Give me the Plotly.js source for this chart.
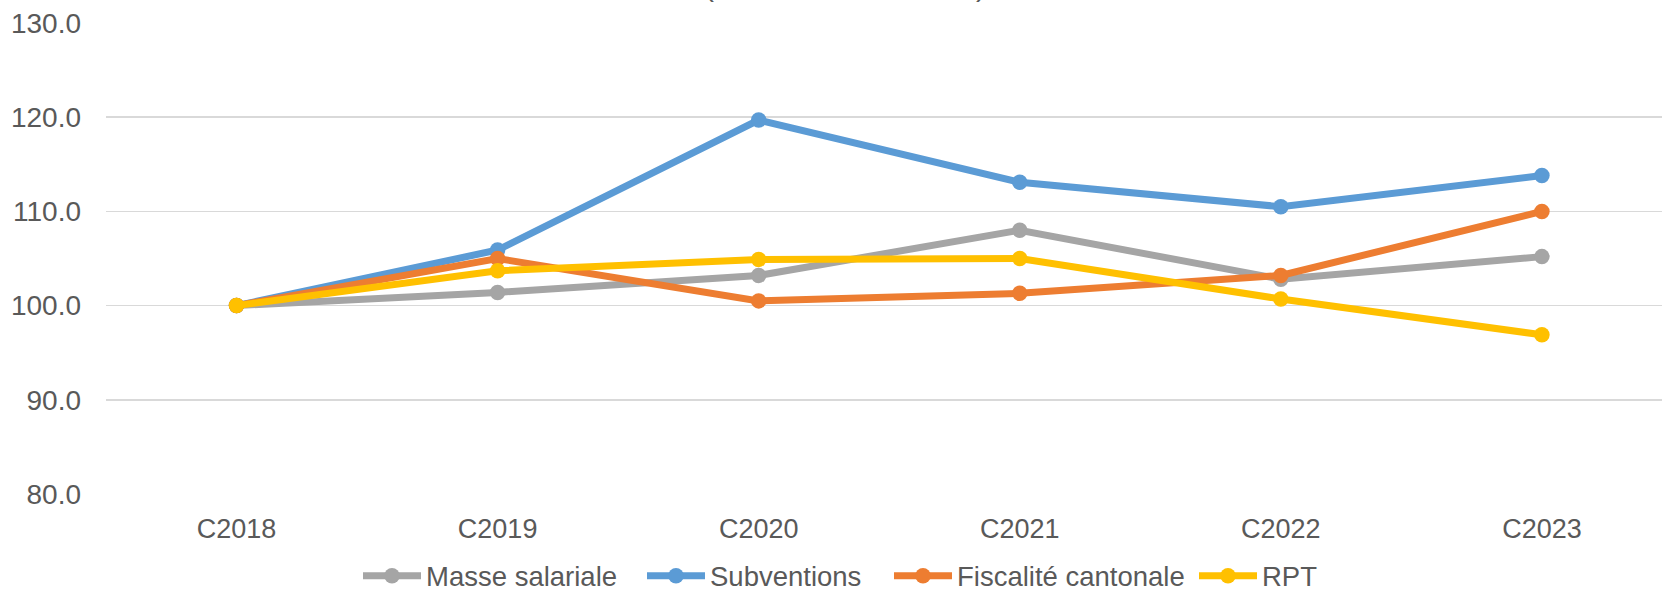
<!DOCTYPE html>
<html>
<head>
<meta charset="utf-8">
<script src="https://cdn.plot.ly/plotly-3.0.1.min.js"></script>
<style>html,body{margin:0;padding:0;background:#fff;}#chart{width:1662px;height:590px;}</style>
</head>
<body>
<div id="chart"></div>
<script>
const categories = ["C2018", "C2019", "C2020", "C2021", "C2022", "C2023"];
const masseSalariale = [100.0, 101.4, 103.2, 108.0, 102.8, 105.2];
const subventions = [100.0, 105.9, 119.7, 113.1, 110.5, 113.8];
const fiscaliteCantonale = [100.0, 105.0, 100.5, 101.3, 103.2, 110.0];
const rpt = [100.0, 103.7, 104.9, 105.0, 100.7, 96.9];
const seriesNames = ["Masse salariale", "Subventions", "Fiscalité cantonale", "RPT"];
const yTicks = [80, 90, 100, 110, 120, 130];
const titleText = "(base 100 en C2018)";

const colors = ["#A5A5A5", "#5B9BD5", "#ED7D31", "#FFC000"];
const allSeries = [masseSalariale, subventions, fiscaliteCantonale, rpt];
const FONT = "Liberation Sans, Arial, sans-serif";
const legendIds = ["legend", "legend2", "legend3", "legend4"];
const legendLeft = [358, 642, 889, 1194];

const traces = allSeries.map((vals, i) => ({
  type: "scatter",
  mode: "lines+markers",
  x: categories,
  y: vals,
  name: seriesNames[i],
  legend: legendIds[i],
  line: {color: colors[i], width: 7},
  marker: {color: colors[i], size: 15.5, symbol: "circle"},
  hoverinfo: "x+y+name"
}));

const layout = {
  width: 1662,
  height: 590,
  margin: {l: 106, r: 0, t: 23, b: 96},
  paper_bgcolor: "#ffffff",
  plot_bgcolor: "#ffffff",
  showlegend: true,
  font: {family: FONT, color: "#595959", size: 26},
  xaxis: {
    type: "category",
    range: [-0.5, 5.46],
    showgrid: false,
    zeroline: false,
    showline: false,
    ticks: "",
    ticklabelstandoff: 16,
    tickfont: {family: FONT, size: 27, color: "#595959"}
  },
  yaxis: {
    range: [80, 130],
    tickvals: yTicks,
    ticktext: yTicks.map(v => v.toFixed(1)),
    showgrid: true,
    gridcolor: "#D9D9D9",
    gridwidth: 1.5,
    zeroline: false,
    showline: false,
    ticks: "",
    ticklabelstandoff: 24,
    tickfont: {family: FONT, size: 28, color: "#595959"}
  },
  annotations: [{
    text: titleText,
    xref: "paper",
    yref: "paper",
    x: 0.475,
    y: 1,
    xanchor: "center",
    yanchor: "middle",
    yshift: 38,
    showarrow: false,
    font: {family: FONT, size: 30, color: "#595959"}
  }]
};

legendIds.forEach((id, i) => {
  layout[id] = {
    orientation: "h",
    xref: "container",
    yref: "container",
    x: legendLeft[i] / 1662,
    xanchor: "left",
    y: 0.024,
    yanchor: "middle",
    font: {family: FONT, size: 27.5, color: "#595959"},
    itemwidth: 58,
    bgcolor: "rgba(0,0,0,0)"
  };
});

Plotly.newPlot("chart", traces, layout, {displayModeBar: false, staticPlot: true});
</script>
</body>
</html>
